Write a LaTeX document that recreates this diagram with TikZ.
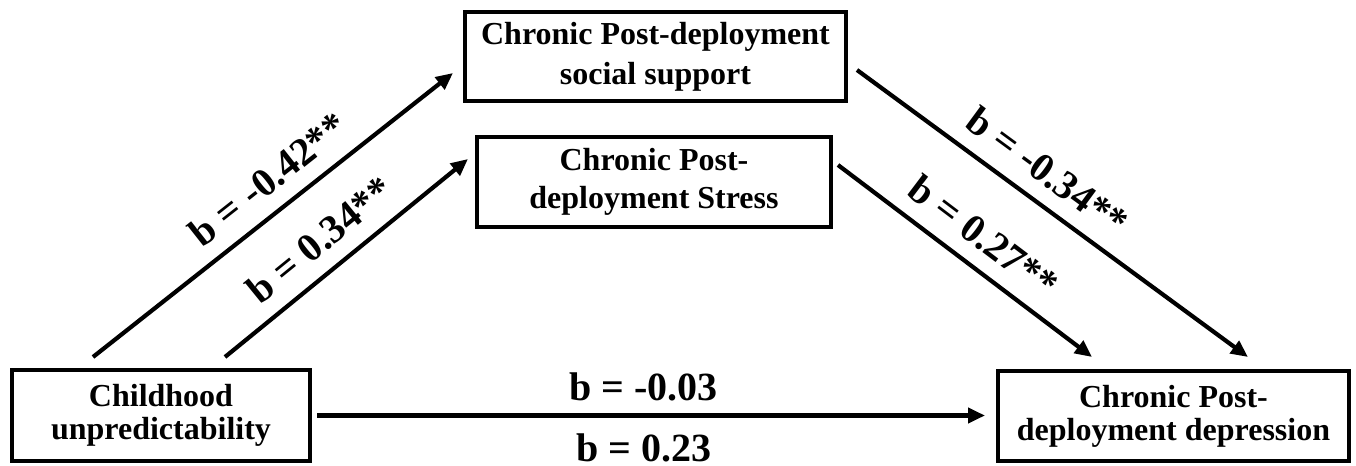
\documentclass[tikz,border=0pt]{standalone}
\usepackage{fontspec}
\setmainfont{Liberation Serif}
\usetikzlibrary{arrows.meta}

\tikzset{
  varbox/.style={draw, line width=2pt, align=center, inner sep=0pt,
    font=\fontsize{16}{16.5}\selectfont\bfseries},
  arr/.style={line width=2.1pt, -{Triangle[length=8.5pt,width=7.5pt]}},
  coef/.style={inner sep=0pt, font=\fontsize{20}{20}\selectfont\bfseries}
}

\begin{document}
\begin{tikzpicture}[x=0.5pt,y=0.5pt]
  \useasboundingbox (0,0) rectangle (1356,466);

  \node[varbox, minimum width=149pt, minimum height=45.5pt] (child) at (161,50.5) {Childhood\\unpredictability};
  \node[varbox, minimum width=175.5pt, minimum height=45pt] (dep) at (1173.5,50) {Chronic Post-\\deployment depression};
  \node[varbox, minimum width=190.5pt, minimum height=44.5pt, font=\fontsize{16}{20}\selectfont\bfseries] (support) at (655.5,409.5) {Chronic Post-deployment\\social support};
  \node[varbox, minimum width=177pt, minimum height=45pt, font=\fontsize{16}{19}\selectfont\bfseries] (stress) at (654,284) {Chronic Post-\\deployment Stress};

  \draw[arr] ([shift={(83,11)}]child.north west) -- ([shift={(-10,-16.5)}]support.west)
    node[coef, sloped, above=7.5pt, pos=0.54] {b = -0.42**};
  \draw[arr] ([shift={(215,11)}]child.north west) -- ([shift={(-7,23)}]stress.west)
    node[coef, sloped, above=7.5pt, pos=0.47] {b = 0.34**};
  \draw[arr] ([shift={(9,-13.5)}]support.east) -- ([shift={(252,12)}]dep.north west)
    node[coef, sloped, above=7.5pt, pos=0.44] {b = -0.34**};
  \draw[arr] ([shift={(5,17)}]stress.east) -- ([shift={(96,12)}]dep.north west)
    node[coef, sloped, above=7.5pt, pos=0.5] {b = 0.27**};
  \draw[arr, shorten <=2.5pt, shorten >=5.5pt] (child.east) -- (child.east -| dep.west)
    node[coef, above=6pt, pos=0.485] {b = -0.03}
    node[coef, below=8pt, pos=0.485] {b = 0.23};
\end{tikzpicture}
\end{document}
